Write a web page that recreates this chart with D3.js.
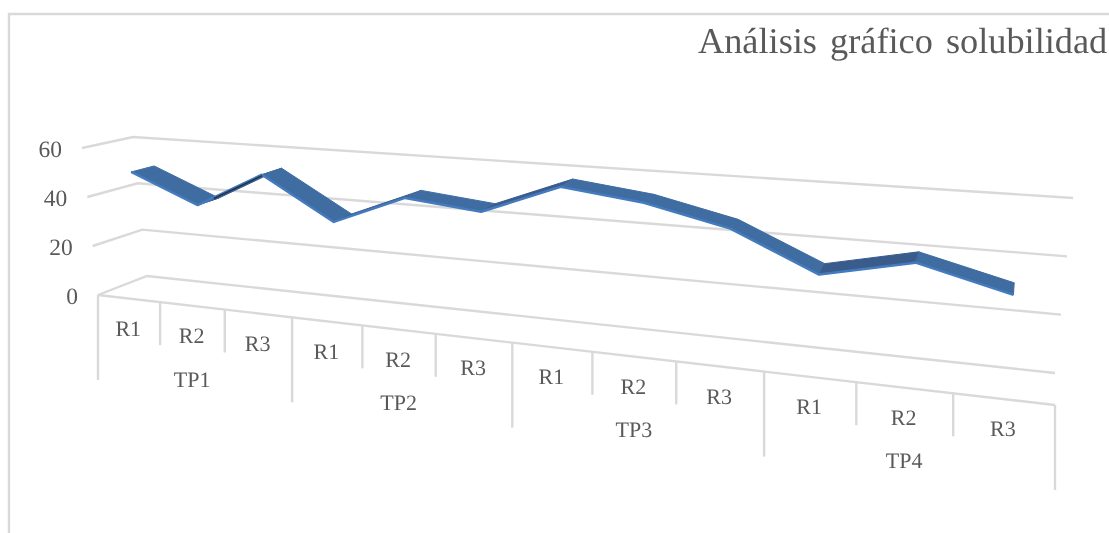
<!DOCTYPE html>
<html>
<head>
<meta charset="utf-8">
<script src="https://cdn.jsdelivr.net/npm/d3@7"></script>
<style>
  html, body { margin: 0; padding: 0; background: #fff; overflow: hidden; }
  svg { display: block; filter: blur(0.4px); }
  text { font-family: "Liberation Serif", serif; fill: #595959; text-rendering: geometricPrecision; }
</style>
</head>
<body>
<div id="chart"></div>
<script>
var chartTitle = "Análisis gráfico solubilidad";
var groups = ["TP1", "TP2", "TP3", "TP4"];
var replicas = ["R1", "R2", "R3"];
var solubilidad = [49.7, 38.3, 52.6, 36.2, 47.8, 44.8, 56.4, 52.8, 45.9, 32.5, 39.4, 31.5];
var yTicks = [0, 20, 40, 60];

var width = 1109, height = 533;
var cats = [];
groups.forEach(function(g) {
  replicas.forEach(function(r) { cats.push(g + "-" + r); });
});

var svg = d3.select("#chart").append("svg")
  .attr("width", width)
  .attr("height", height);

// category position, before the perspective squeeze
var band = d3.scaleBand().domain(cats).range([0, 12]);

// perspective: cells get wider to the right
var squeeze = 1.31;
function persp(u) {
  return u / (u + squeeze * (12 - u));
}

// floor corners of the 3d box, and the value scales on each side
var frontX = d3.scaleLinear().domain([0, 1]).range([98, 1055]);
var frontY = d3.scaleLinear().domain([0, 1]).range([295, 405]);
var backX = d3.scaleLinear().domain([0, 1]).range([147, 1055]);
var backY = d3.scaleLinear().domain([0, 1]).range([276, 373]);
var liftFront = d3.scaleLinear().domain([0, 1]).range([147, 186]);
var liftBack = d3.scaleLinear().domain([0, 1]).range([139, 175]);
var leanFront = d3.scaleLinear().domain([0, 1]).range([-16, 20]);
var leanBack = d3.scaleLinear().domain([0, 1]).range([-14, 18]);
var yScale = d3.scaleLinear().domain([0, 60]).range([0, 1]);

// u = category position 0..12, v = value, z = depth 0 front, 1 back
function project(u, v, z) {
  var t = persp(u), k = yScale(v);
  var x = d3.interpolateNumber(frontX(t) + leanFront(t) * k, backX(t) + leanBack(t) * k)(z);
  var y = d3.interpolateNumber(frontY(t) - liftFront(t) * k, backY(t) - liftBack(t) * k)(z);
  return [x, y];
}

// frame
var frameColor = "#d9d9d9";
var gridWidth = 2.4;
svg.append("path")
  .attr("d", d3.line()([[9, height], [9, 14], [width, 14]]))
  .attr("fill", "none")
  .attr("stroke", frameColor)
  .attr("stroke-width", gridWidth);

svg.append("text")
  .attr("x", 698)
  .attr("y", 53)
  .attr("font-size", 36.3)
  .attr("word-spacing", 4)
  .text(chartTitle);

// wall gridlines
yTicks.forEach(function(v) {
  svg.append("path")
    .attr("d", d3.line()([project(0, v, 0), project(0, v, 1), project(12, v, 1)]))
    .attr("fill", "none")
    .attr("stroke", frameColor)
    .attr("stroke-width", gridWidth);

  var p = project(0, v, 0);
  svg.append("text")
    .attr("x", p[0] - 20)
    .attr("y", p[1] + 1)
    .attr("dy", "0.33em")
    .attr("text-anchor", "end")
    .attr("font-size", 23.5)
    .text(v);
});

// front edge of the floor
svg.append("path")
  .attr("d", d3.line()([project(0, 0, 0), project(12, 0, 0)]))
  .attr("fill", "none")
  .attr("stroke", frameColor)
  .attr("stroke-width", gridWidth);

// category ticks: short for replicas, long for groups
d3.range(0, 13).forEach(function(i) {
  var p = project(i, 0, 0);
  var len = i % 3 === 0 ? 85 : 43;
  svg.append("line")
    .attr("x1", p[0]).attr("y1", p[1])
    .attr("x2", p[0]).attr("y2", p[1] + len)
    .attr("stroke", frameColor)
    .attr("stroke-width", gridWidth);
});

cats.forEach(function(c) {
  var u = band(c) + band.bandwidth() / 2;
  var p = project(u, 0, 0);
  svg.append("text")
    .attr("x", p[0] - 0.5)
    .attr("y", p[1] + 30)
    .attr("dy", "0.33em")
    .attr("text-anchor", "middle")
    .attr("font-size", 22)
    .text(c.split("-")[1]);
});

groups.forEach(function(g) {
  var u = band(g + "-R2") + band.bandwidth() / 2;
  var p = project(u, 0, 0);
  svg.append("text")
    .attr("x", p[0])
    .attr("y", p[1] + 73.5)
    .attr("dy", "0.33em")
    .attr("text-anchor", "middle")
    .attr("font-size", 22)
    .text(g);
});

// ribbon of the 3d line
var zFront = 0.3, zBack = 0.77;
var ribbon = solubilidad.map(function(v, i) {
  var u = band(cats[i]) + band.bandwidth() / 2;
  return { front: project(u, v, zFront), back: project(u, v, zBack) };
});

d3.pairs(ribbon).forEach(function(pair) {
  var a = pair[0], b = pair[1];
  var rising = b.front[1] < a.front[1];
  svg.append("path")
    .attr("d", d3.line()([a.front, b.front, b.back, a.back]) + "Z")
    .attr("fill", rising ? "#3a5c8c" : "#3f6ca1")
    .attr("stroke", rising ? "#3a5c8c" : "#3f6ca1")
    .attr("stroke-width", 1)
    .attr("stroke-linejoin", "round");
});

// lighter underside along the front edge
svg.append("path")
  .attr("d", d3.line()(ribbon.map(function(d) { return d.front; })))
  .attr("fill", "none")
  .attr("stroke", "#447bbf")
  .attr("stroke-width", 2.5)
  .attr("stroke-linejoin", "round");

// steep rising stretch shows the dark side of the ribbon
d3.pairs(ribbon).forEach(function(pair) {
  var a = pair[0].front, b = pair[1].front;
  if ((a[1] - b[1]) / (b[0] - a[0]) > 0.4) {
    svg.append("line")
      .attr("x1", d3.interpolateNumber(a[0], b[0])(0.25))
      .attr("y1", d3.interpolateNumber(a[1], b[1])(0.25) + 1)
      .attr("x2", b[0])
      .attr("y2", b[1] + 1)
      .attr("stroke", "#1f3550")
      .attr("stroke-width", 1.5);
  }
});
</script>
</body>
</html>
